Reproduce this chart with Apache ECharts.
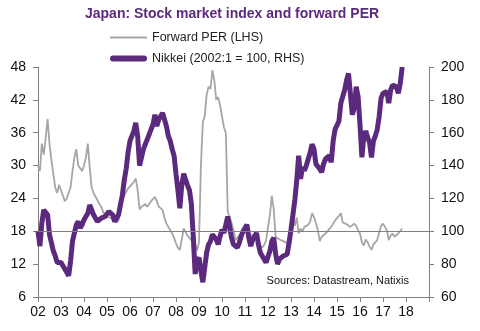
<!DOCTYPE html>
<html><head><meta charset="utf-8">
<script src="https://cdn.jsdelivr.net/npm/echarts@6/dist/echarts.min.js"></script>
<style>html,body{margin:0;padding:0;background:#fff}#c{width:480px;height:331px}</style>
</head><body><div id="c"></div>
<script>
// Monthly observations, Jan 2002 .. Nov 2017
const startYear = 2002;
const yearLabels = ['02','03','04','05','06','07','08','09','10','11','12','13','14','15','16','17','18'];
const leftTicks = [6, 12, 18, 24, 30, 36, 42, 48];
const rightTicks = [60, 80, 100, 120, 140, 160, 180, 200];

const forwardPER = [
  30, 29, 34, 32, 35, 38.5, 34, 31, 28.5, 26, 25, 26.5,
  25.5, 24.5, 23.5, 24, 24.3, 26, 29, 31.5, 33, 30, 29.5, 29,
  30, 31.5, 34, 29.5, 26, 25, 24.3, 23.7, 23, 22.5, 21.5, 21,
  20.6, 20.3, 20.5, 20, 19.8, 19.6, 20, 21.5, 23.5, 24.5, 25.2, 25.8,
  26.2, 26.6, 27, 27.6, 25.5, 22, 22.5, 22.3, 23, 22.5, 22.8, 23.5,
  23.7, 24.3, 23.5, 22.5, 22.2, 21.9, 20.5, 19.4, 18.8, 18.5, 17.6, 16.8,
  15.8, 15, 14.6, 16.5, 18.5, 18.8, 17.2, 17, 16.4, 16.4, 15.8, 14.5,
  16, 30, 38, 39, 43, 44.4, 44, 47.4, 45.5, 42, 42.5, 41,
  41.3, 37, 36, 21.5, 20.6, 19.5, 18.2, 16.4, 16.8, 17.2, 17.8, 18.3,
  18.8, 18.5, 17.5, 17.6, 17.2, 17, 16.8, 16, 15.4, 15, 15.5, 16.4,
  18.8, 21, 24.5, 22, 17, 16.8, 16.5, 16.5, 16.2, 16, 15.8, 17.5,
  19.5, 20.5, 19, 20.5, 17.6, 18.5, 18, 18.8, 18.8, 19.2, 19.8, 21.3,
  20.6, 19.5, 18.2, 16.2, 17, 17.3, 17.6, 18, 18.2, 18.8, 19.4, 20,
  20, 20.8, 21.3, 19.6, 19.4, 19.3, 19, 18.8, 18.6, 19.4, 19, 18.2,
  17.6, 16, 15.4, 16.5, 16, 15.2, 14.6, 15.6, 15.8, 16.4, 17.8, 19,
  19.4, 18.8, 18.2, 16.4, 17.2, 17.6, 17, 17.2, 17.6, 17.6, 18.5
];

const nikkei = [
  100, 91, 105, 113, 114, 110, 98, 93, 88, 85, 81, 82,
  81, 79, 77, 75, 73, 82, 94, 99, 104, 106, 102, 104,
  107, 108, 111, 116, 113, 110, 111, 106, 105, 108, 107, 109,
  110, 112, 113, 110, 106, 105, 110, 116, 122, 131, 138, 148,
  155, 156, 161, 166, 158, 140, 145, 150, 153, 156, 159, 162,
  165, 171, 164, 168, 170, 172, 173, 164, 158, 155, 150, 146,
  135, 125, 114, 128, 135, 136, 128, 125, 117, 97, 74, 82,
  84, 76, 69, 78, 87, 92, 94, 98, 98, 95, 92, 97,
  101, 99, 104, 109, 103, 96, 92, 91, 90, 93, 97, 100,
  102, 104, 96, 91, 95, 96, 99, 92, 87, 85, 83, 81,
  82, 88, 94, 96, 86, 80, 83, 84, 85, 84, 86, 93,
  101, 110, 119, 131, 146, 132, 139, 137, 140, 141, 148, 153,
  150, 141, 140, 138, 136, 141, 144, 145, 146, 142, 155, 162,
  162, 167, 178, 182, 186, 192, 196, 197, 171, 175, 188, 182,
  165, 145, 158, 161, 157, 154, 145, 155, 158, 162, 170, 181,
  184, 183, 185, 178, 186, 189, 190, 188, 184, 190, 200
];

const FONT = 'Liberation Sans, Arial, sans-serif';
const toPairs = arr => arr.map((v, i) => [startYear + i / 12, v]);

const chart = echarts.init(document.getElementById('c'), null, {renderer: 'canvas'});
chart.setOption({
  animation: false,
  backgroundColor: '#fff',
  title: {
    text: 'Japan: Stock market index and forward PER',
    left: 80, top: 2,
    textStyle: {fontFamily: FONT, fontSize: 14, fontWeight: 'bold', color: '#5B2A7E'}
  },
  legend: [
    {
      data: [{name: 'Forward PER (LHS)', icon: 'rect'}],
      left: 105, top: 26, itemWidth: 37, itemHeight: 2, itemGap: 6,
      textStyle: {fontFamily: FONT, fontSize: 12.5, color: '#222'}
    },
    {
      data: [{name: 'Nikkei (2002:1 = 100, RHS)', icon: 'path://M3,0 L34,0 A3,3 0 0 1 34,6 L3,6 A3,3 0 0 1 3,0 Z'}],
      left: 105, top: 47, itemWidth: 37, itemHeight: 6, itemGap: 6,
      textStyle: {fontFamily: FONT, fontSize: 12.5, color: '#222'}
    }
  ],
  grid: {left: 38, right: 51, top: 67, bottom: 34},
  xAxis: {
    type: 'value', min: 2002, max: 2019, interval: 1,
    axisLine: {lineStyle: {color: '#808080', width: 1}},
    axisTick: {inside: false, length: 5, lineStyle: {color: '#808080'}},
    splitLine: {show: false},
    axisLabel: {
      fontFamily: FONT, fontSize: 14, color: '#111', margin: 8,
      formatter: v => { const i = Math.round(v - 2002); return i < yearLabels.length ? yearLabels[i] : ''; }
    }
  },
  yAxis: [
    {
      type: 'value', min: leftTicks[0], max: leftTicks[leftTicks.length - 1], interval: 6,
      axisLine: {show: true, lineStyle: {color: '#808080', width: 1}},
      axisTick: {show: true, length: 5, lineStyle: {color: '#808080'}},
      splitLine: {show: false},
      axisLabel: {fontFamily: FONT, fontSize: 14, color: '#111', margin: 12}
    },
    {
      type: 'value', min: rightTicks[0], max: rightTicks[rightTicks.length - 1], interval: 20,
      position: 'right',
      axisLine: {show: true, lineStyle: {color: '#808080', width: 1}},
      axisTick: {show: true, length: 5, lineStyle: {color: '#808080'}},
      splitLine: {show: false},
      axisLabel: {fontFamily: FONT, fontSize: 14, color: '#111', margin: 12}
    }
  ],
  series: [
    {
      name: 'Forward PER (LHS)', type: 'line', yAxisIndex: 0,
      data: toPairs(forwardPER), symbol: 'none',
      lineStyle: {color: '#A6A6A6', width: 1.8}, itemStyle: {color: '#A6A6A6'},
      z: 2,
      markLine: {
        silent: true, symbol: 'none', label: {show: false},
        lineStyle: {color: '#808080', width: 1, type: 'solid'},
        data: [{yAxis: 18}]
      }
    },
    {
      name: 'Nikkei (2002:1 = 100, RHS)', type: 'line', yAxisIndex: 1,
      data: toPairs(nikkei), symbol: 'none',
      lineStyle: {color: '#5B2A7E', width: 5}, itemStyle: {color: '#5B2A7E'},
      z: 3
    }
  ],
  graphic: [{
    type: 'text', right: 71, top: 275,
    style: {text: 'Sources: Datastream, Natixis', font: '11px Liberation Sans, Arial, sans-serif', fill: '#111'}
  }]
});
</script></body></html>
